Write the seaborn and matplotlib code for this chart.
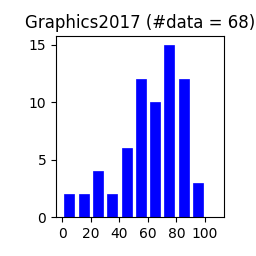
import numpy as np
import matplotlib
matplotlib.use('Agg')
import matplotlib.pyplot as plt
import seaborn as sns

# bin centres and counts
bin_centers = [5, 15, 25, 35, 45, 55, 65, 75, 85, 95, 105]
counts = [2, 2, 4, 2, 6, 12, 10, 15, 12, 3, 0]
bin_edges = list(range(0, 120, 10))

fig = plt.figure(figsize=(2.56, 2.56), dpi=100)
ax = fig.add_axes([0.219, 0.152, 0.656, 0.707])

sns.histplot(x=bin_centers, weights=counts, bins=bin_edges, shrink=0.7,
             color='blue', edgecolor='blue', alpha=1, linewidth=0.5, ax=ax)

ax.set_title("Graphics2017 (#data = {})".format(sum(counts)), fontsize=12)
ax.set_xlabel("")
ax.set_ylabel("")
ax.set_xticks([0, 20, 40, 60, 80, 100])
ax.set_yticks([0, 5, 10, 15])
ax.set_xlim(-4.4, 113.3)

fig.savefig('out.png', dpi=100)
